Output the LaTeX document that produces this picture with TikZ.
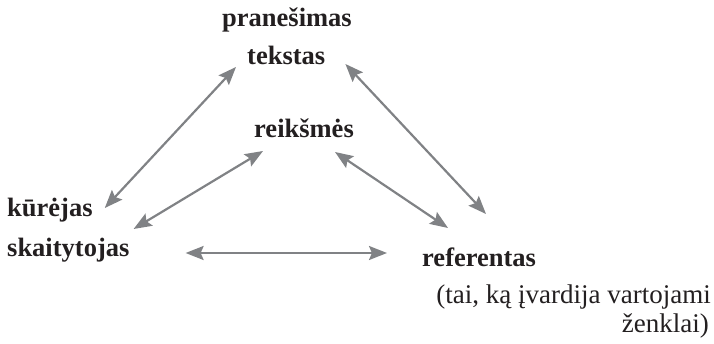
\documentclass[tikz,border=0pt]{standalone}
\usepackage{fontspec}
\setmainfont{Liberation Serif}
\usepackage{tikz}
\usetikzlibrary{arrows.meta}

\definecolor{linkgray}{HTML}{808285}
\definecolor{textblack}{HTML}{231F20}

\begin{document}
\begin{tikzpicture}[x=1pt, y=-1pt,
  term/.style={inner sep=0pt, anchor=base west, text=textblack,
    font=\bfseries\fontsize{26.5}{30}\selectfont},
  %
  note/.style={inner sep=0pt, anchor=base east, text=textblack,
    font=\fontsize{27}{30}\selectfont},
  %
  link/.style={{Stealth[length=18pt,width=14pt,inset=3pt]}-{Stealth[length=18pt,width=14pt,inset=3pt]},
    draw=linkgray, line width=2.2pt}
  ]

  \useasboundingbox (0,0) rectangle (714,344);

  \begin{scope}
    %%%%%%%%%%%%%%%%%%%%%%%%%%%%%%%
    \node [term] (pranesimas) at (222,27) {pranešimas};
    \node [term] (tekstas) at (247,65) {tekstas};
    %%%%%%%%%%%%%%%%%%%%%%%%%%%%%%%
    \node [term] (reiksmes) at (254,138) {reikšmės};
    %%%%%%%%%%%%%%%%%%%%%%%%%%%%%%%
    \node [term] (kurejas) at (7,217) {kūrėjas};
    \node [term] (skaitytojas) at (7,257) {skaitytojas};
    %%%%%%%%%%%%%%%%%%%%%%%%%%%%%%%
    \node [term] (referentas) at (422,267) {referentas};
    \node [note] (paaiskinimas) at (711,303) {(tai, ką įvardija vartojami};
    \node [note] (zenklai) at (709,332) {ženklai)};
  \end{scope}

  \begin{scope}
    \draw [link] ([shift={(-11,2)}]tekstas.base west)
      -- ([shift={(12,-9)}]kurejas.base east);
    \draw [link] ([shift={(20,-1)}]tekstas.base east)
      -- ([shift={(64,-53)}]referentas.base west);
    \draw [link] ([shift={(9,13)}]reiksmes.base west)
      -- ([shift={(4,-28)}]skaitytojas.base east);
    \draw [link] ([shift={(-19,14)}]reiksmes.base east)
      -- ([shift={(26,-39)}]referentas.base west);
    \draw [link] ([shift={(56,-4)}]skaitytojas.base east)
      -- ([shift={(-35,-14)}]referentas.base west);
  \end{scope}

\end{tikzpicture}
\end{document}
